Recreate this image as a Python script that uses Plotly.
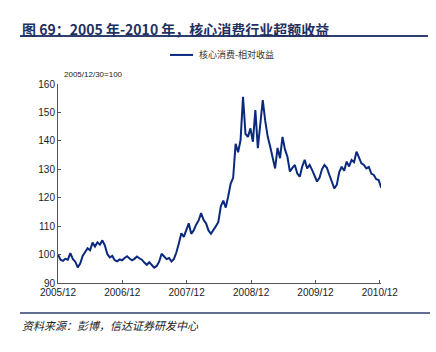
import pandas as pd
import plotly.graph_objects as go

start_date = "2005-12-30"
step_days = 14
values = [
    100, 98.2, 97.8, 98.5, 98.2, 100.5, 98.5, 97.5, 95.5, 96.8,
    99.5, 100.8, 102.2, 101.5, 104.2, 102.8, 104.3, 103.5, 105, 103.2,
    100.2, 99, 99.5, 98, 97.6, 98.3, 98, 98.8, 99.4, 98.6,
    98, 98.5, 99.3, 98.7, 98.2, 97.2, 96.4, 97.3, 96.5, 95.4,
    96, 97.5, 100.3, 99.2, 98.4, 98.8, 97.6, 98.5, 100.8, 104,
    107.5, 106.2, 108.5, 111, 107.3, 108.5, 110.5, 112, 114.6, 112.2,
    111, 108.5, 107.3, 108.5, 110, 111.5, 117, 119, 116.5, 120.5,
    125, 127, 139, 136, 140.3, 155.5, 142.5, 141.4, 144.4, 139.7,
    150.8, 137.4, 146, 154.3, 147, 141.5, 138, 134, 130.3, 137.5,
    133.9, 141.4, 137, 134.4, 129.2, 130.5, 131.5, 128.5, 127.4, 131,
    133.3, 130.3, 131.5, 129.8, 128, 125.7, 127, 130, 131.5, 130.5,
    128, 125.5, 123.3, 124.5, 129, 130.9, 129.5, 132.7, 131, 133.3,
    132.5, 136.2, 134, 132.1, 131.5, 130.3, 130.8, 128.5, 128, 126.5,
    126.2, 123.5,
]
dates = pd.date_range(start_date, periods=len(values), freq=f"{step_days}D")

tick_dates = ["2005-12-30", "2006-12-30", "2007-12-30", "2008-12-30", "2009-12-30", "2010-12-30"]
tick_labels = ["2005/12", "2006/12", "2007/12", "2008/12", "2009/12", "2010/12"]
y_ticks = [90, 100, 110, 120, 130, 140, 150, 160]

series_name = "核心消费-相对收益"
title_text = "图 69：2005 年-2010 年，核心消费行业超额收益"
base_note = "2005/12/30=100"
source_text = "资料来源：彭博，信达证券研发中心"

line_color = "#0b2a7e"
navy = "#2e3f6e"
tick_font = dict(family="Liberation Sans, Arial, sans-serif", size=10, color="#222")

fig = go.Figure()
fig.add_trace(go.Scatter(x=dates, y=values, mode="lines", name=series_name,
                         line=dict(color=line_color, width=2), showlegend=False))

fig.update_layout(
    width=436, height=352, autosize=False,
    margin=dict(l=58, r=55, t=84, b=69),
    paper_bgcolor="white", plot_bgcolor="white",
    xaxis=dict(
        range=[pd.Timestamp("2005-12-30"), pd.Timestamp("2011-01-06")],
        tickvals=tick_dates, ticktext=tick_labels,
        showgrid=False, zeroline=False,
        showline=True, linecolor="#555", linewidth=1,
        ticks="inside", ticklen=3, tickcolor="#555",
        tickfont=tick_font,
    ),
    yaxis=dict(
        range=[90, 160], tickvals=y_ticks,
        showgrid=False, zeroline=False,
        showline=True, linecolor="#555", linewidth=1,
        ticks="inside", ticklen=3, tickcolor="#555",
        tickfont=tick_font,
    ),
)

# title
fig.add_annotation(x=-0.1176, y=1.276, xref="paper", yref="paper",
                   text=f"<b>{title_text}</b>", showarrow=False,
                   xanchor="left", yanchor="middle",
                   font=dict(family="Noto Sans CJK SC", size=14, color="#1f3060"))
fig.add_shape(type="line", xref="paper", yref="paper",
              x0=-0.1176, x1=1.1455, y0=1.241, y1=1.241,
              line=dict(color=navy, width=2))
# legend
fig.add_shape(type="line", xref="paper", yref="paper",
              x0=0.3467, x1=0.418, y0=1.146, y1=1.146,
              line=dict(color=line_color, width=2))
fig.add_annotation(x=0.4303, y=1.146, xref="paper", yref="paper",
                   text=series_name, showarrow=False,
                   xanchor="left", yanchor="middle",
                   font=dict(family="Noto Sans CJK SC", size=9, color="#333"))
# base note
fig.add_annotation(x=0.0124, y=1.05, xref="paper", yref="paper",
                   text=base_note, showarrow=False,
                   xanchor="left", yanchor="middle",
                   font=dict(family="Liberation Sans, Arial, sans-serif", size=8, color="#222"))
# bottom rule and source
fig.add_shape(type="line", xref="paper", yref="paper",
              x0=-0.1176, x1=1.1517, y0=-0.1508, y1=-0.1508,
              line=dict(color=navy, width=1.5))
fig.add_annotation(x=-0.1176, y=-0.211, xref="paper", yref="paper",
                   text=f"<i>{source_text}</i>", showarrow=False,
                   xanchor="left", yanchor="middle",
                   font=dict(family="Noto Sans CJK SC", size=11, color="#222"))

fig.write_html("out.html")
